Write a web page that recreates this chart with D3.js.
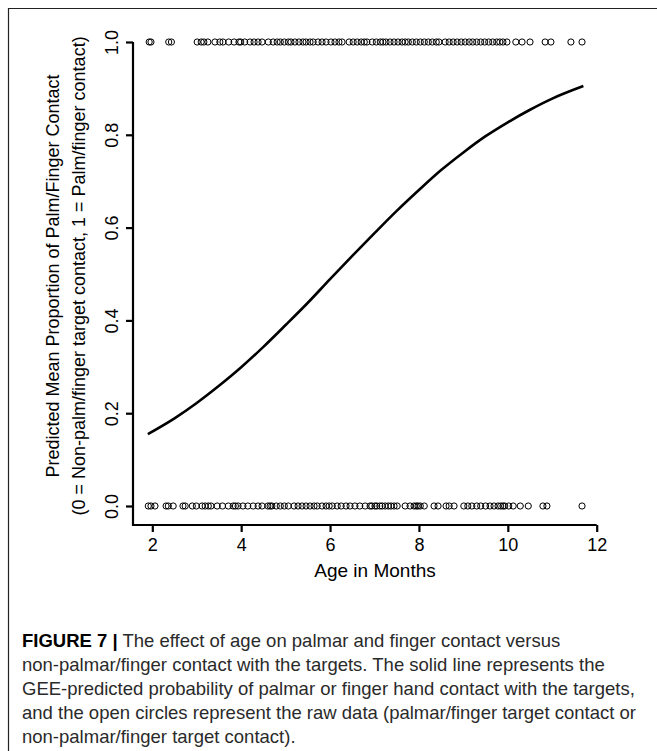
<!DOCTYPE html>
<html>
<head>
<meta charset="utf-8">
<script src="https://cdn.jsdelivr.net/npm/d3@7"></script>
<style>
  html, body { margin: 0; padding: 0; background: #fff; }
  svg { display: block; }
</style>
</head>
<body>
<svg id="chart" width="657" height="751"></svg>
<script>
// ---------- data ----------
const xTicks = [2, 4, 6, 8, 10, 12];
const yTicks = [0, 0.2, 0.4, 0.6, 0.8, 1.0];
const xTitle = "Age in Months";
const yTitle1 = "Predicted Mean Proportion of Palm/Finger Contact";
const yTitle2 = "(0 = Non-palm/finger target contact, 1 = Palm/finger contact)";

// raw observations with palm/finger contact (value 1), age in months
const agesContact = [1.93, 1.97, 2.37, 2.43,
  3.01, 3.10, 3.16, 3.25, 3.41, 3.52, 3.59, 3.72, 3.84, 3.95, 3.99, 4.08, 4.20, 4.29, 4.38, 4.47,
  4.61, 4.72, 4.81, 4.88, 4.97, 5.06, 5.12, 5.21, 5.30, 5.39,
  5.46, 5.55, 5.62, 5.73, 5.82, 5.91, 6.02, 6.11, 6.20, 6.27,
  6.43, 6.52, 6.61, 6.70, 6.77, 6.83, 6.95, 7.04, 7.13, 7.19, 7.26, 7.35, 7.44, 7.53, 7.62, 7.69,
  7.76, 7.85, 7.94, 8.03, 8.12, 8.21, 8.30, 8.39, 8.45,
  8.59, 8.68, 8.77, 8.86, 8.95, 9.04, 9.13, 9.21, 9.30, 9.39, 9.48, 9.57, 9.66, 9.75, 9.82, 9.89, 9.98,
  10.18, 10.32, 10.50, 10.84, 10.97, 11.42, 11.67];

// raw observations without palm/finger contact (value 0), age in months
const agesNoContact = [1.91, 1.97, 2.06, 2.31, 2.36, 2.47, 2.69, 2.74,
  2.90, 2.99, 3.12, 3.19, 3.26, 3.32, 3.46, 3.58, 3.71, 3.82, 3.87, 3.93, 4.04, 4.15, 4.27, 4.38, 4.47,
  4.60, 4.65, 4.69, 4.79, 4.88, 4.97, 5.06, 5.19, 5.28, 5.37, 5.46,
  5.55, 5.64, 5.71, 5.82, 5.91, 5.98, 6.05, 6.16, 6.25, 6.36, 6.45, 6.56, 6.67, 6.79, 6.90,
  6.94, 7.01, 7.05, 7.12, 7.17, 7.24, 7.31, 7.37, 7.44, 7.51,
  7.69, 7.80, 7.89, 7.94, 7.98, 8.03, 8.12, 8.34, 8.43, 8.61, 8.68, 8.79,
  9.01, 9.10, 9.19, 9.30, 9.39, 9.50, 9.60, 9.69, 9.78, 9.84, 9.89, 9.93, 10.02,
  10.12, 10.28, 10.46, 10.79, 10.88, 11.67];

// GEE-predicted probability curve
const curveAge  = [1.9, 2.5, 3.0, 3.5, 4.0, 4.5, 5.0, 5.5, 6.0, 6.5, 7.0, 7.5, 8.0, 8.5, 9.0, 9.5, 10.0, 10.5, 11.0, 11.7];
const curveProb = [0.155, 0.189, 0.222, 0.259, 0.299, 0.343, 0.390, 0.438, 0.489, 0.539, 0.588, 0.636, 0.681, 0.724, 0.762, 0.797, 0.827, 0.854, 0.878, 0.905];

const captionBold = "FIGURE 7 |";
const captionLines = [
  " The effect of age on palmar and finger contact versus",
  "non-palmar/finger contact with the targets. The solid line represents the",
  "GEE-predicted probability of palmar or finger hand contact with the targets,",
  "and the open circles represent the raw data (palmar/finger target contact or",
  "non-palmar/finger target contact)."
];

// ---------- drawing ----------
const svg = d3.select("#chart");
const FONT = "'Liberation Sans', Arial, Helvetica, sans-serif";

// figure frame
svg.append("path")
  .attr("d", "M8.5,751 L8.5,8.5 L657,8.5")
  .attr("fill", "none").attr("stroke", "#222").attr("stroke-width", 1.2);

const x = d3.scaleLinear().domain([2, 12]).range([152.3, 596.7]);
const y = d3.scaleLinear().domain([0, 1]).range([506, 42]);
const xLeft = 133, yBottom = 525;

const g = svg.append("g");

// L-shaped box
g.append("path")
  .attr("d", `M${xLeft},${y(1)} L${xLeft},${yBottom} L${x(12)},${yBottom}`)
  .attr("fill", "none").attr("stroke", "#000").attr("stroke-width", 2.2);

// x axis
const xAxis = g.append("g").attr("transform", `translate(0,${yBottom})`)
  .call(d3.axisBottom(x).tickValues(xTicks).tickSize(7).tickPadding(8).tickFormat(d3.format("d")));
xAxis.select(".domain").remove();
xAxis.selectAll(".tick line").attr("stroke", "#000").attr("stroke-width", 2.2);
xAxis.selectAll(".tick text").attr("font-family", FONT).attr("font-size", 18).attr("fill", "#000")
  .attr("dy", null).attr("y", 26);

// y axis
const yAxis = g.append("g").attr("transform", `translate(${xLeft},0)`)
  .call(d3.axisLeft(y).tickValues(yTicks).tickSize(7).tickFormat(d3.format(".1f")));
yAxis.select(".domain").remove();
yAxis.selectAll(".tick line").attr("stroke", "#000").attr("stroke-width", 2.2);
yAxis.selectAll(".tick text")
  .attr("font-family", FONT).attr("font-size", 18).attr("fill", "#000")
  .attr("x", null).attr("dy", null)
  .attr("text-anchor", "middle")
  .attr("transform", "translate(-15,0) rotate(-90)");

// axis titles
g.append("text").attr("x", 375).attr("y", 577)
  .attr("text-anchor", "middle").attr("font-family", FONT).attr("font-size", 19).attr("fill", "#000")
  .text(xTitle);
const yMid = 276;
g.append("text").attr("transform", `translate(59,${yMid}) rotate(-90)`)
  .attr("text-anchor", "middle").attr("font-family", FONT).attr("font-size", 18).attr("fill", "#000")
  .text(yTitle1);
g.append("text").attr("transform", `translate(85,${yMid}) rotate(-90)`)
  .attr("text-anchor", "middle").attr("font-family", FONT).attr("font-size", 18).attr("fill", "#000")
  .text(yTitle2);

// raw data circles
const pts = agesContact.map(a => ({ age: a, v: 1 }))
  .concat(agesNoContact.map(a => ({ age: a, v: 0 })));
g.append("g").selectAll("circle").data(pts).join("circle")
  .attr("cx", d => x(d.age)).attr("cy", d => y(d.v)).attr("r", 3.1)
  .attr("fill", "none").attr("stroke", "#000").attr("stroke-width", 1);

// predicted curve
const curve = curveAge.map((a, i) => ({ age: a, p: curveProb[i] }));
g.append("path").datum(curve)
  .attr("d", d3.line().x(d => x(d.age)).y(d => y(d.p)).curve(d3.curveMonotoneX))
  .attr("fill", "none").attr("stroke", "#000").attr("stroke-width", 2.6);

// caption
const cap = svg.append("text").attr("font-family", FONT).attr("font-size", 18.5).attr("fill", "#2a2a2a");
captionLines.forEach((line, i) => {
  const t = cap.append("tspan").attr("x", 22).attr("y", 647 + i * 24);
  if (i === 0) {
    t.append("tspan").attr("font-weight", "bold").attr("fill", "#000").text(captionBold);
    cap.append("tspan").text(line);
  } else {
    t.text(line);
  }
});
</script>
</body>
</html>
